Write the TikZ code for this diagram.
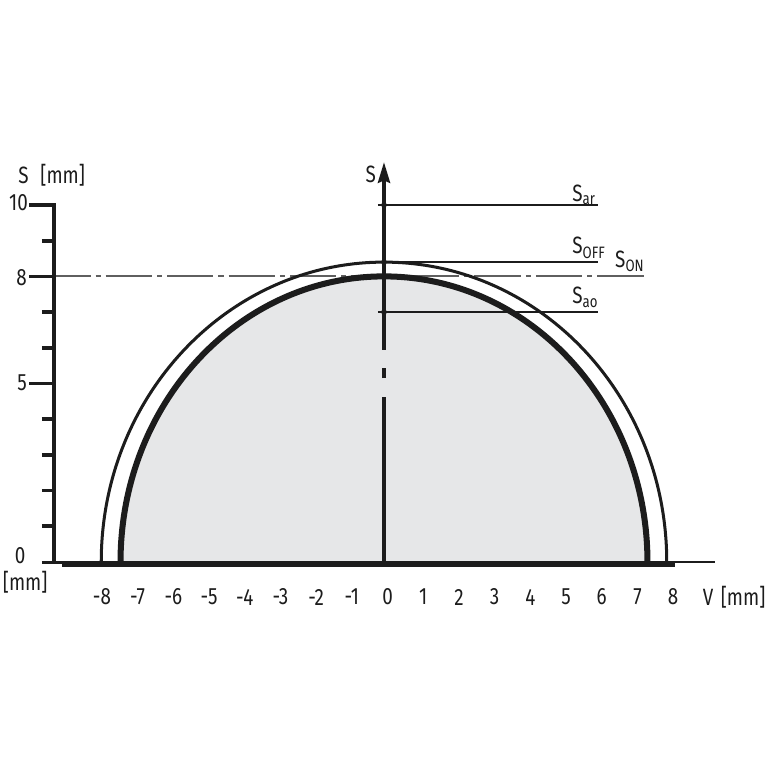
\documentclass[tikz,border=0pt]{standalone}
\usepackage{fontspec}
\setmainfont{Fira Sans}[FakeStretch=0.8]
\usetikzlibrary{arrows.meta}
\definecolor{domefill}{RGB}{230,231,232}
\definecolor{ink}{RGB}{28,28,28}
\definecolor{dashink}{RGB}{95,95,95}
\begin{document}
\begin{tikzpicture}[
  lbl/.style={font=\fontsize{18.8}{21}\selectfont, inner sep=0pt, text=ink},
  thinline/.style={line width=1.1pt, draw=ink},
  axisline/.style={line width=2.8pt, draw=ink},
  tickline/.style={line width=3pt, draw=ink},
  dashdot/.style={line width=1.6pt, draw=dashink, dash pattern=on 37pt off 4pt on 4pt off 4pt, dash phase=8pt},
  dot/.style={circle, fill=ink, inner sep=0pt, minimum size=1.6mm},
]
\useasboundingbox (-10.756,-5.742) rectangle (10.728,15.742);

% dome fill
\fill[domefill] (-7.38,0) arc[start angle=180, end angle=0, x radius=7.38, y radius=8] -- cycle;

% S_ON dash-dot line
\coordinate (onL) at (-9.24,8);
\coordinate (onR) at (7.37,8);
\draw[dashdot] (onL) -- (onR);

% outer (S_OFF) curve and inner (S_ON) curve
\draw[line width=2.4pt, ink] (-7.92,0) arc[start angle=180, end angle=0, x radius=7.92, y radius=8.4];
\draw[line width=4.8pt, ink] (-7.38,0) arc[start angle=180, end angle=0, x radius=7.38, y radius=8];

% left S axis with ticks
\draw[tickline, line join=miter] (-9.94,10) -- (-9.24,10) -- (-9.24,-0.03);
\foreach \k in {1,2,3,4,6,7,9} \draw[tickline] (-9.58,\k) -- (-9.24,\k);
\foreach \k in {5,8} \draw[tickline] (-9.94,\k) -- (-9.24,\k);
\draw[line width=2.4pt, ink] (-9.58,0) -- (-9.02,0);

% bottom V axis
\draw[line width=4.4pt, ink] (-9.02,-0.05) -- (8.15,-0.05);
\draw[thinline] (8.0,0) -- (9.27,0);

% central S axis (dash-dot part) with arrow
\draw[axisline] (0,0) -- (0,4.62);
\draw[axisline] (0,5.15) -- (0,5.43);
\draw[axisline, -{Stealth[length=5.8mm, width=3.4mm, inset=0.7mm]}] (0,5.94) -- (0,11.2);

% level lines
\node[dot] (dar) at (0,10) {};
\node[dot] (doff) at (0,8.4) {};
\node[dot] (dao) at (0,7) {};
\coordinate (arL) at (-0.17,10);
\coordinate (arR) at (6,10);
\coordinate (offR) at (6,8.4);
\coordinate (aoL) at (-0.17,7);
\coordinate (aoR) at (6,7);
\draw[thinline] (arL) -- (arR);
\draw[thinline] (doff.center) -- (offR);
\draw[thinline] (aoL) -- (aoR);

% level labels
\node[lbl, anchor=base west] (sar) at (5.27,10.1) {S\textsubscript{ar}};
\node[lbl, anchor=base west] (soff) at (5.27,8.63) {S\textsubscript{OFF}};
\node[lbl, anchor=base west] (son) at (6.47,8.24) {S\textsubscript{ON}};
\node[lbl, anchor=base west] (sao) at (5.27,7.23) {S\textsubscript{ao}};
\node[lbl, anchor=base east] (saxis) at (-0.22,10.64) {S};

% y labels
\node[lbl] (ys) at (-10.1,10.84) {S};
\node[lbl] (ymm) at (-9.0,10.84) {[mm]};
\node[lbl, anchor=east] (y10) at (-9.97,10.06) {10};
\node[lbl, anchor=east] (y8) at (-10.0,7.96) {8};
\node[lbl, anchor=east] (y5) at (-10.0,5.01) {5};
\node[lbl, anchor=east] (y0) at (-10.04,0.17) {0};
\node[lbl, anchor=west] (y0mm) at (-10.68,-0.56) {[mm]};

% x labels
\foreach \d in {-8,...,8} \node[lbl] (xl\d) at (\d+0.1,-0.98) {\d};
\node[lbl] (xv) at (9.08,-0.98) {V};
\node[lbl] (xmm) at (10.06,-0.98) {[mm]};
\end{tikzpicture}
\end{document}
